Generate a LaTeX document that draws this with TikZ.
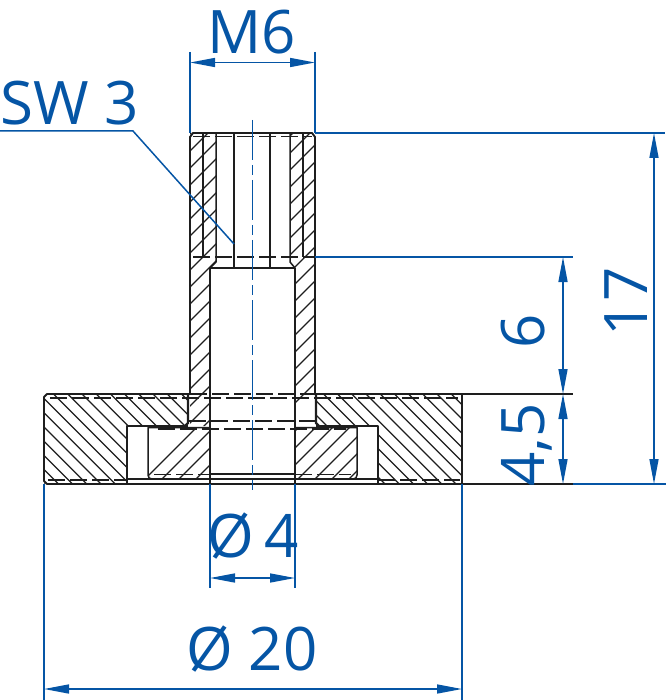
\documentclass[tikz,border=0pt]{standalone}
\usepackage{fontspec}
\setmainfont{Open Sans}
\usetikzlibrary{arrows.meta}
\definecolor{dimblue}{RGB}{5,85,165}
\definecolor{ink}{RGB}{30,30,30}
\tikzset{
  outline/.style={draw=ink,line width=1.9pt,line join=round},
  thin outline/.style={draw=ink,line width=1.5pt,line join=round},
  hidden/.style={draw=ink,line width=1.3pt,dash pattern=on 17pt off 5pt},
  hatch/.style={draw=ink,line width=1.25pt},
  dimline/.style={draw=dimblue,line width=1.5pt},
  dimarrow/.style={draw=dimblue,line width=1.5pt,{Stealth[length=25pt,width=9pt,inset=0pt,fill=dimblue]}-{Stealth[length=25pt,width=9pt,inset=0pt,fill=dimblue]}},
  extblack/.style={draw=ink,line width=1.6pt},
  axisline/.style={draw=dimblue,line width=1.6pt,dash pattern=on 40pt off 5pt on 10pt off 5pt},
  dimtext/.style={text=dimblue,font=\fontsize{60}{60}\selectfont,inner sep=0pt,anchor=base},
}
\begin{document}
\begin{tikzpicture}[x=1pt,y=-1pt]
\useasboundingbox (0,0) rectangle (667,700);
% --- hatching: stud walls
\begin{scope}
\clip (190,133) -- (216,133) -- (216,262) -- (210,268) -- (210,426) -- (190,426) -- cycle
      (315,133) -- (290,133) -- (290,262) -- (295,268) -- (295,426) -- (315,426) -- cycle;
\foreach \k in {0,...,24} {
  \draw[hatch] (160,{130+\k*17}) -- +(180,-180);
}
\end{scope}
% --- hatching: flange
\begin{scope}
\clip (44,394) -- (188,394) -- (188,426) -- (127,426) -- (127,484) -- (44,484) -- cycle
      (316,394) -- (316,426) -- (378,426) -- (378,484) -- (462,484) -- (462,394) -- cycle;
\foreach \k in {0,...,42} {
  \draw[hatch] ({-60+\k*14.2},394) -- +(120,120);
}
\end{scope}
% --- hatching: inner piece
\begin{scope}
\clip (148,427) -- (210,427) -- (210,478) -- (148,478) -- cycle
      (295,427) -- (357,427) -- (357,478) -- (295,478) -- cycle;
\foreach \k in {0,...,22} {
  \draw[hatch] ({140+\k*17},484) -- +(70,-70);
}
\end{scope}
% --- stud outline
\draw[outline] (190,394) -- (190,137) -- (193,133) -- (312,133) -- (315,137) -- (315,394);
\draw[thin outline] (203,133) -- (203,257);
\draw[thin outline] (303,133) -- (303,257);
\draw[thin outline] (216,133) -- (216,262) -- (210,268);
\draw[thin outline] (290,133) -- (290,262) -- (295,268);
\draw[thin outline] (234,133) -- (234,268);
\draw[thin outline] (270,133) -- (270,268);
\draw[thin outline] (210,268) -- (295,268);
\draw[thin outline] (210,268) -- (210,484);
\draw[thin outline] (295,268) -- (295,484);
\draw[hidden] (193,136.5) -- (312,136.5);
\draw[hidden] (193,257) -- (315,257);
% --- flange outline
\draw[outline] (190,394) -- (47,394) -- (44,397) -- (44,481) -- (47,484) -- (462,484) -- (462,394) -- (315,394);
\draw[hidden] (190,394) -- (315,394);
\draw[hidden] (50,398) -- (458,398);
\draw[hidden] (48,480) -- (127,480);
\draw[hidden] (378,480) -- (460,480);
\draw[thin outline] (127,484) -- (127,426) -- (188,426);
\draw[thin outline] (378,484) -- (378,426) -- (316,426);
\draw[line width=2.4pt,draw=ink] (188,394) -- (188,423) -- (185,426);
\draw[line width=2.4pt,draw=ink] (316,394) -- (316,423) -- (319,426);
% --- inner piece
\draw[thin outline] (210,427.5) -- (148,427.5) -- (148,475) .. controls (148,477.5) and (149.5,479) .. (152,479) -- (353,479) .. controls (355.5,479) and (357,477.5) .. (357,475) -- (357,427.5) -- (295,427.5);
\draw[thin outline] (127,479) -- (378,479);
\draw[thin outline] (210,474) -- (295,474);
\draw[hidden] (189,421) -- (318,421);
\draw[hidden] (158,429) -- (346,429);
\draw[hidden] (154,474.5) -- (210,474.5);
\draw[hidden] (295,474.5) -- (351,474.5);
% --- axis
\draw[axisline] (252.5,120) -- (252.5,490);
% --- dimensioning
\coordinate (m6l) at (190,62.5); \coordinate (m6r) at (315,62.5);
\draw[dimline] (190,52) -- (190,133);
\draw[dimline] (315,52) -- (315,133);
\draw[dimarrow] (m6l) -- (m6r);
\node[dimtext] (m6) at (252,54) {M6};
\node[dimtext,anchor=base west] (sw) at (0,125) {SW 3};
\coordinate (swend) at (234,244);
\draw[dimline] (0,131) -- (133,131) -- (swend);
% right
\draw[dimline] (315,133) -- (665,133);
\draw[dimline] (315,257) -- (573,257);
\draw[extblack] (462,394) -- (573,394);
\draw[extblack] (462,484) -- (573,484);
\draw[dimline] (573,484) -- (666,484);
\coordinate (a) at (654,133); \coordinate (b) at (654,484);
\draw[dimarrow] (a) -- (b);
\coordinate (c) at (563,257); \coordinate (d) at (563,394); \coordinate (e) at (563,484);
\draw[dimarrow] (c) -- (d);
\draw[dimarrow] (d) -- (e);
\node[dimtext,rotate=90] (t17) at (647,302) {17};
\node[dimtext,rotate=90] (t6) at (544,331) {6};
\node[dimtext,rotate=90] (t45) at (544,445) {4,5};
% bottom
\draw[dimline] (210,484) -- (210,588);
\draw[dimline] (295,484) -- (295,588);
\draw[dimline] (44,484) -- (44,700);
\draw[dimline] (462,484) -- (462,700);
\coordinate (f) at (210,578); \coordinate (g) at (295,578);
\coordinate (h) at (44,689); \coordinate (i) at (462,689);
\draw[dimarrow] (f) -- (g);
\draw[dimarrow] (h) -- (i);
\node[dimtext] (d4) at (253,557) {Ø\,4};
\node[dimtext] (d20) at (252,670) {Ø 20};
\end{tikzpicture}
\end{document}
